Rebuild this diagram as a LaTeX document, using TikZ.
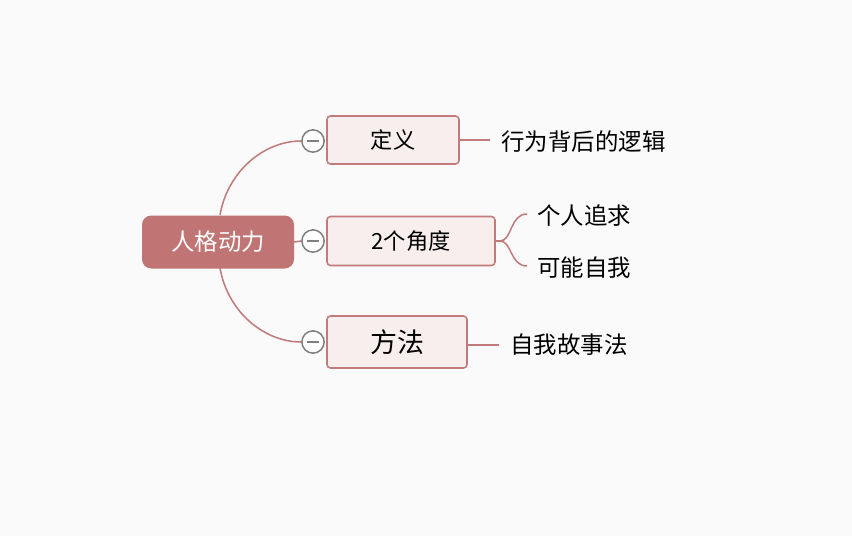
\documentclass[tikz,border=0pt]{standalone}
\usepackage{fontspec}
\setmainfont{Noto Sans CJK SC}
\definecolor{rootred}{HTML}{C07473}
\definecolor{boxfill}{HTML}{F8EEEE}
\definecolor{edge}{HTML}{C27B7A}
\tikzset{
  topic/.style={draw=edge, line width=1.3pt, fill=boxfill, rounded corners=3pt, inner sep=0pt, font=\fontsize{19pt}{20pt}\selectfont},
  leaf/.style={inner sep=1pt, anchor=west, font=\fontsize{20pt}{22pt}\selectfont},
  fold/.style={circle, draw=gray, line width=1.3pt, fill=white, minimum size=19pt, inner sep=0pt},
  link/.style={edge, line width=1.3pt}
}
\begin{document}
\begin{tikzpicture}[x=0.03cm, y=-0.03cm]
\useasboundingbox (0,0) rectangle (852,536);
\fill[white!98!black] (0,0) rectangle (852,536);

\node[fill=rootred, rounded corners=8pt, text=white, minimum width=152*0.03cm, minimum height=53*0.03cm, font=\fontsize{20pt}{22pt}\selectfont] (root) at (218,242) {人格动力};

\node[topic, minimum width=132*0.03cm, minimum height=48*0.03cm] (def) at (393,140) {定义};
\node[topic, minimum width=168*0.03cm, minimum height=49*0.03cm] (ang) at (411,241) {2个角度};
\node[topic, minimum width=140*0.03cm, minimum height=52*0.03cm, font=\fontsize{23pt}{24pt}\selectfont] (met) at (397,342) {方法};

\node[fold] (f1) at (313,141) {};
\node[fold] (f2) at (313,241) {};
\node[fold] (f3) at (313,342) {};
\foreach \f in {f1,f2,f3}
  \draw[gray, line width=1.3pt] ([xshift=-5pt]\f.center) -- ([xshift=5pt]\f.center);

\draw[link] (220,215) .. controls (228,170) and (265,141) .. (f1.west);
\draw[link] (220,268) .. controls (228,313) and (265,342) .. (f3.west);
\draw[link] (root.east) -- (f2.west);

\node[leaf] (logic) at (500,142) {行为背后的逻辑};
\node[leaf] (seek) at (536,216) {个人追求};
\node[leaf] (self) at (536,268) {可能自我};
\node[leaf] (story) at (509,345) {自我故事法};

\draw[link] (def.east) -- ([xshift=-10*0.03cm]logic.west |- def.east);
\draw[link] (met.east |- story.west) -- ([xshift=-10*0.03cm]story.west);
\draw[link] (ang.east) -- (500,241) .. controls (512,241) and (510,214) .. (527,214);
\draw[link] (500,241) .. controls (512,241) and (510,266) .. (527,266);
\end{tikzpicture}
\end{document}
